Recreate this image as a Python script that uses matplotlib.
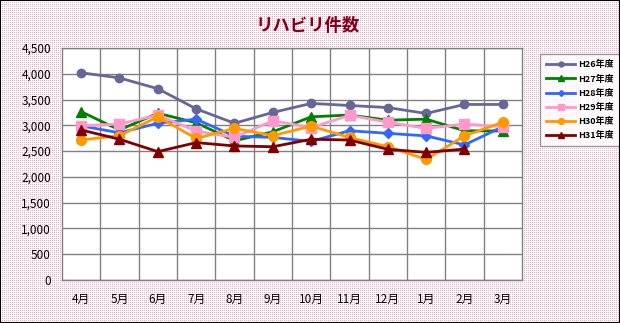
import numpy as np
import matplotlib
matplotlib.use("Agg")
import matplotlib.pyplot as plt
from matplotlib.ticker import FuncFormatter, MultipleLocator
from matplotlib.patches import Rectangle

plt.rcParams['font.family'] = ['Noto Sans CJK JP', 'DejaVu Sans']

title = "リハビリ件数"
months = ["4月", "5月", "6月", "7月", "8月", "9月", "10月", "11月", "12月", "1月", "2月", "3月"]

series_names = ["H26年度", "H27年度", "H28年度", "H29年度", "H30年度", "H31年度"]
h26 = [4020, 3920, 3710, 3320, 3040, 3250, 3425, 3385, 3345, 3230, 3405, 3405]
h27 = [3265, 2910, 3235, 3050, 2700, 2875, 3165, 3200, 3100, 3120, 2895, 2890]
h28 = [2990, 2855, 3040, 3120, 2790, 2765, 2690, 2895, 2845, 2795, 2620, 2975]
h29 = [2990, 3025, 3200, 2890, 2765, 3090, 2955, 3195, 3060, 2940, 3025, 2975]
h30 = [2715, 2800, 3165, 2745, 2940, 2800, 2985, 2765, 2585, 2340, 2795, 3060]
h31 = [2910, 2730, 2490, 2665, 2600, 2585, 2730, 2715, 2535, 2475, 2540, None]

colors = ["#666699", "#008000", "#3366FF", "#FF99CC", "#FF9900", "#800000"]
markers = ["o", "^", "D", "s", "o", "^"]
msizes = [6, 6.5, 5, 6.5, 7, 6.5]

W, H = 620, 323
fig = plt.figure(figsize=(W / 100, H / 100), dpi=100)
fig.patch.set_facecolor('white')

# dotted pink background
bg = np.ones((H, W, 3))
yy, xx = np.mgrid[0:H, 0:W]
mask = (yy % 2 == 0) & (xx % 2 == 0)
bg[mask] = np.array([240, 170, 200]) / 255.0
fig.figimage(bg, xo=0, yo=0, origin='upper', zorder=-10)

ax = fig.add_axes([62 / W, 43 / H, 460 / W, 232 / H])
ax.set_zorder(5)
ax.set_facecolor('white')

x = np.arange(len(months))
all_series = [h26, h27, h28, h29, h30, h31]
for name, vals, c, m, ms in zip(series_names, all_series, colors, markers, msizes):
    v = np.array([np.nan if a is None else a for a in vals], dtype=float)
    ax.plot(x, v, color=c, marker=m, markersize=ms, linewidth=2, label=name,
            markeredgecolor=c, zorder=3)

ax.set_xlim(-0.5, len(months) - 0.5)
ax.set_ylim(0, 4500)
ax.yaxis.set_major_locator(MultipleLocator(500))
ax.yaxis.set_major_formatter(FuncFormatter(lambda v, p: f"{int(v):,}"))
ax.set_xticks(x)
ax.set_xticklabels(months)
ax.set_xticks(np.arange(0.5, len(months) - 0.5, 1), minor=True)
ax.grid(True, which='major', axis='y', color='#808080', linewidth=1)
ax.grid(True, which='minor', axis='x', color='#808080', linewidth=1)
ax.set_axisbelow(True)
ax.tick_params(which='both', length=0)
ax.tick_params(axis='y', labelsize=8.5, pad=8)
ax.tick_params(axis='x', labelsize=8.5, pad=9)
for s in ax.spines.values():
    s.set_color('#808080')
    s.set_linewidth(1)

fig.text(308 / W, 1 - 26 / H, title, ha='center', va='center', fontsize=12.5,
         color='#800020', fontweight='bold', zorder=6)

leg = fig.legend(loc='upper left', bbox_to_anchor=(540 / W, 1 - 54 / H),
                 frameon=True, fancybox=False, fontsize=6.5, markerscale=0.6,
                 handlelength=3.2, handletextpad=0.3, labelspacing=0.55,
                 borderpad=0.7, borderaxespad=0)
leg.set_zorder(6)
leg.get_frame().set_edgecolor('#808080')
leg.get_frame().set_linewidth(1)
for t in leg.get_texts():
    t.set_fontweight('bold')

fig.patches.append(Rectangle((0, 0), 1, 1, transform=fig.transFigure,
                             fill=False, edgecolor='black', linewidth=1.5,
                             zorder=7))

fig.savefig("out.png", dpi=100)
